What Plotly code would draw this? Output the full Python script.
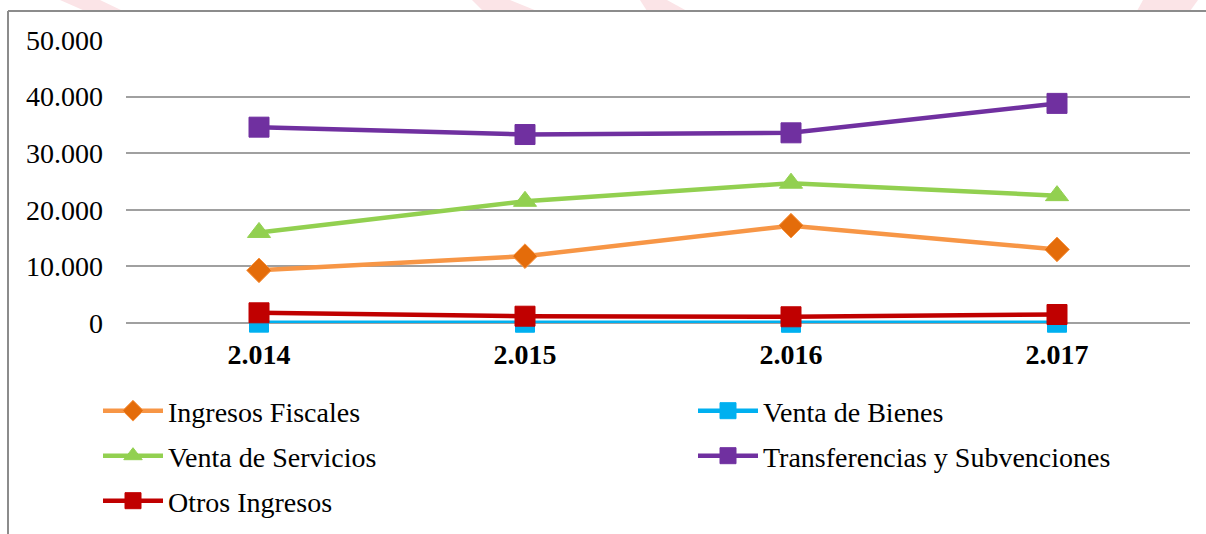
import plotly.graph_objects as go

W, H = 1206, 534
years = ["2.014", "2.015", "2.016", "2.017"]
ingresos_fiscales = [9300, 11800, 17200, 13000]
venta_bienes = [60, 50, 40, 50]
venta_servicios = [16000, 21500, 24700, 22500]
transferencias = [34600, 33300, 33600, 38800]
otros_ingresos = [1800, 1200, 1100, 1500]

names = ["Ingresos Fiscales", "Venta de Bienes", "Venta de Servicios",
         "Transferencias y Subvenciones", "Otros Ingresos"]
series = [ingresos_fiscales, venta_bienes, venta_servicios, transferencias, otros_ingresos]
line_colors = ["#F79646", "#00B0F0", "#92D050", "#7030A0", "#C00000"]
marker_colors = ["#E46C0A", "#00B0F0", "#92D050", "#7030A0", "#C00000"]
symbols = ["diamond", "square", "triangle-up", "square", "square"]
msizes = [19, 19, 20, 20, 20]

FONT = "Liberation Serif, Times New Roman, serif"
ML, MR, MT, MB = 126, 16, 40, 211
PW, PH = W - ML - MR, H - MT - MB

def px(x):
    return (x - ML) / PW

def py(y):
    return (H - MB - y) / PH

fig = go.Figure()
legend_ids = ["legend", "legend2", "legend3", "legend4", "legend5"]
for i in range(5):
    fig.add_trace(go.Scatter(
        x=years, y=series[i], name=names[i], mode="lines+markers",
        line=dict(color=line_colors[i], width=4.5),
        marker=dict(symbol=symbols[i], size=msizes[i], color=marker_colors[i],
                    line=dict(color=line_colors[i], width=1)),
        legend=legend_ids[i], cliponaxis=False,
    ))

# legend positions (pixel): symbol-left x, row center y
leg_pos = [(98, 411), (693, 411), (98, 456), (693, 456), (98, 501)]
layout_legends = {}
for i, lid in enumerate(legend_ids):
    lx, ly = leg_pos[i]
    layout_legends[lid] = dict(
        xref="container", yref="container", x=lx / W, y=1 - ly / H,
        xanchor="left", yanchor="middle", bgcolor="rgba(0,0,0,0)",
        font=dict(family=FONT, size=28, color="#000000"), itemwidth=60,
    )

shapes = []
# watermark stripes (decorative)
stripes = [
    [(60, 0), (100, 0), (123, 11), (85, 11)],
    [(472, 0), (510, 0), (537, 11), (483, 11)],
    [(640, 0), (667, 0), (687, 11), (647, 11)],
    [(1143, 0), (1198, 0), (1190, 11), (1137, 11)],
]
for poly in stripes:
    path = "M " + " L ".join(f"{px(a):.5f},{py(b):.5f}" for a, b in poly) + " Z"
    shapes.append(dict(type="path", xref="paper", yref="paper", path=path,
                       fillcolor="#FBE4E7", line=dict(width=0), layer="below"))
# chart border (top and left)
shapes.append(dict(type="line", xref="paper", yref="paper", x0=px(8), y0=py(11), x1=px(1210), y1=py(11),
                   line=dict(color="#8C8C8C", width=2)))
shapes.append(dict(type="line", xref="paper", yref="paper", x0=px(8), y0=py(11), x1=px(8), y1=py(540),
                   line=dict(color="#8C8C8C", width=2)))

fig.update_layout(
    width=W, height=H, margin=dict(l=ML, r=MR, t=MT, b=MB, pad=0, autoexpand=False),
    paper_bgcolor="white", plot_bgcolor="white",
    separators=",.",
    font=dict(family=FONT, size=28, color="#000000"),
    showlegend=True,
    shapes=shapes,
    **layout_legends,
)
fig.update_xaxes(type="category", range=[-0.5, 3.5], showgrid=False, showline=False,
                 zeroline=False, ticks="", ticklabelstandoff=12, tickangle=0,
                 tickfont=dict(family=FONT, size=28, color="#000000", weight="bold"))
fig.update_yaxes(range=[0, 50000], dtick=10000, tickformat=",d", showgrid=True,
                 gridcolor="#A0A0A0", gridwidth=2, zeroline=True, zerolinecolor="#A0A0A0",
                 zerolinewidth=2, showline=False, ticks="", ticklabelstandoff=22,
                 tickfont=dict(family=FONT, size=28, color="#000000"))

fig.write_html("out.html", config={"displayModeBar": False},
               post_script="document.body.style.margin='0';document.body.style.overflow='hidden';")
